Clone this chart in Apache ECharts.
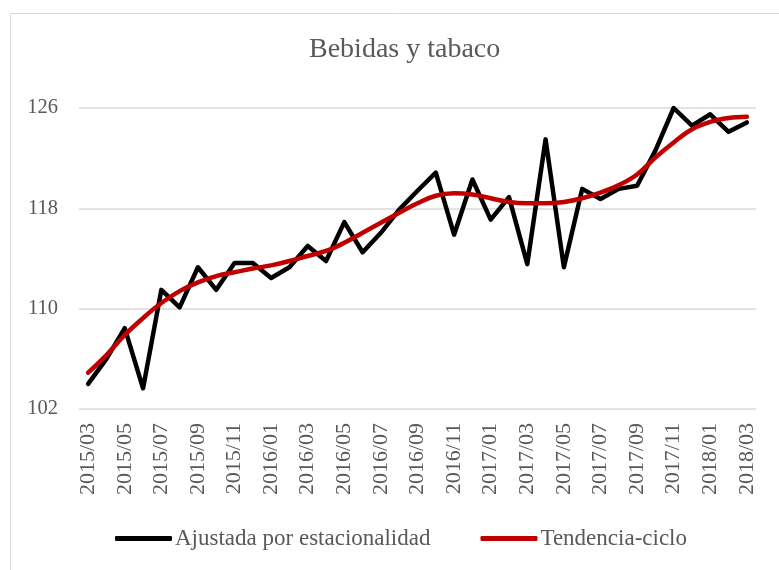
<!DOCTYPE html>
<html>
<head>
<meta charset="utf-8">
<script src="https://cdn.jsdelivr.net/npm/echarts@6/dist/echarts.min.js"></script>
<style>html,body{margin:0;padding:0;background:#fff}#c{width:779px;height:570px}</style>
</head>
<body>
<div id="c"></div>
<script>
const titleText = 'Bebidas y tabaco';
const categories = [
  '2015/03','2015/04','2015/05','2015/06','2015/07','2015/08','2015/09','2015/10','2015/11','2015/12',
  '2016/01','2016/02','2016/03','2016/04','2016/05','2016/06','2016/07','2016/08','2016/09','2016/10',
  '2016/11','2016/12','2017/01','2017/02','2017/03','2017/04','2017/05','2017/06','2017/07','2017/08',
  '2017/09','2017/10','2017/11','2017/12','2018/01','2018/02','2018/03'
];
const seriesNames = ['Ajustada por estacionalidad', 'Tendencia-ciclo'];
const ajustada = [
  104.0, 106.0, 108.45, 103.65, 111.5, 110.1, 113.3, 111.5, 113.65, 113.65,
  112.45, 113.3, 115.0, 113.8, 116.9, 114.5, 116.05, 117.9, 119.4, 120.85,
  115.9, 120.3, 117.1, 118.9, 113.55, 123.5, 113.3, 119.55, 118.75, 119.55,
  119.8, 122.6, 126.0, 124.6, 125.5, 124.1, 124.85
];
const tendencia = [
  104.9, 106.3, 107.9, 109.25, 110.45, 111.4, 112.1, 112.6, 112.9, 113.2,
  113.45, 113.8, 114.2, 114.6, 115.25, 116.05, 116.85, 117.65, 118.4, 119.0,
  119.2, 119.1, 118.8, 118.5, 118.4, 118.4, 118.5, 118.8, 119.25, 119.85,
  120.7, 122.05, 123.25, 124.3, 124.9, 125.2, 125.3
];
const yMin = 102, yMax = 126, yStep = 8;

const FONT = '"Liberation Serif", "DejaVu Serif", serif';
const TXT = '#595959';
const chart = echarts.init(document.getElementById('c'), null, {renderer: 'canvas'});
chart.setOption({
  animation: false,
  backgroundColor: '#ffffff',
  graphic: [{
    type: 'rect', left: 8, top: 11, silent: true,
    shape: {width: 900, height: 700},
    style: {fill: 'none', stroke: '#d9d9d9', lineWidth: 1}
  }],
  title: {
    text: titleText, left: 304, top: 31,
    textStyle: {fontFamily: FONT, fontSize: 28, fontWeight: 'normal', color: TXT}
  },
  legend: {
    bottom: 15, left: 110,
    itemWidth: 57, itemHeight: 5, itemGap: 50,
    icon: 'roundRect',
    textStyle: {fontFamily: FONT, fontSize: 23, color: TXT, padding: [0, 0, 0, -2]},
    data: seriesNames
  },
  grid: {left: 79, right: 23, top: 108, bottom: 161, containLabel: false},
  xAxis: {
    type: 'category', data: categories, boundaryGap: true,
    axisLine: {show: false}, axisTick: {show: false},
    axisLabel: {rotate: 90, interval: 1, margin: 14, fontFamily: FONT, fontSize: 22, color: TXT}
  },
  yAxis: {
    type: 'value', min: yMin, max: yMax, interval: yStep,
    axisLine: {show: false}, axisTick: {show: false},
    axisLabel: {margin: 21, fontFamily: FONT, fontSize: 20.5, color: TXT},
    splitLine: {lineStyle: {color: '#d9d9d9', width: 1.5}}
  },
  series: [
    {
      name: seriesNames[0], type: 'line', data: ajustada, symbol: 'none',
      lineStyle: {color: '#000000', width: 4.5, join: 'round', cap: 'round'},
      itemStyle: {color: '#000000'}
    },
    {
      name: seriesNames[1], type: 'line', data: tendencia, symbol: 'none', smooth: 0.4,
      lineStyle: {color: '#c00000', width: 4.5, cap: 'round'},
      itemStyle: {color: '#c00000'}
    }
  ]
});
</script>
</body>
</html>
